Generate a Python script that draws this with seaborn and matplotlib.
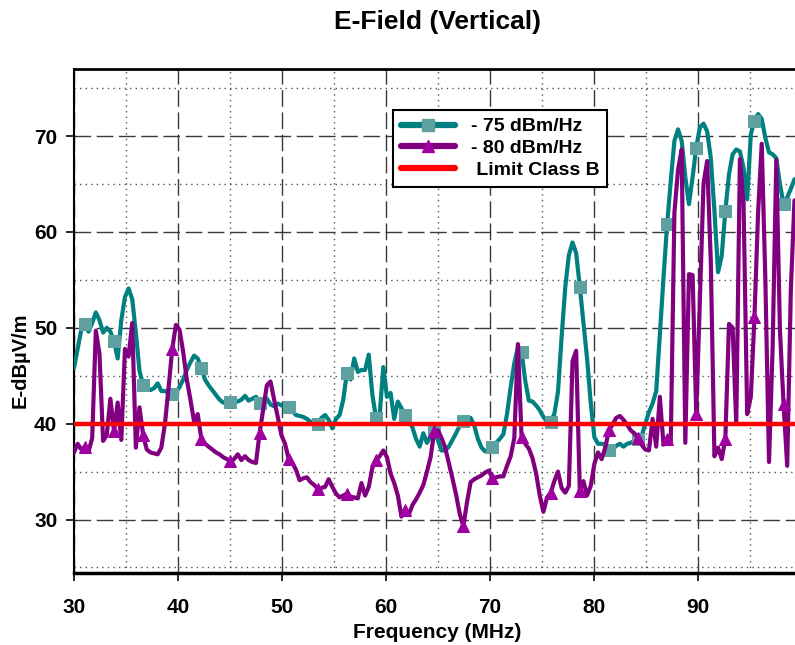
import numpy as np
import matplotlib
matplotlib.use("Agg")
import matplotlib.pyplot as plt
import seaborn as sns
from matplotlib.lines import Line2D
from matplotlib.ticker import MultipleLocator

# ---------------- data ----------------
freq_start = 30.0   # MHz, first sample
freq_step = 0.35    # MHz between samples

teal_vals = [
    45.8, 47.8, 49.8, 50.4, 49.6, 50.5, 51.6, 50.8, 49.5, 50.0,
    49.6, 48.6, 46.8, 50.8, 53.2, 54.1, 53.0, 49.5, 45.5, 44.0,
    43.8, 43.5, 43.7, 44.2, 43.4, 43.4, 43.2, 43.1, 43.3, 43.8,
    44.6, 45.6, 46.4, 47.1, 46.8, 45.8, 44.6, 44.0, 43.5, 43.0,
    42.5, 42.2, 42.1, 42.3, 42.4, 42.3, 42.5, 42.9, 42.4, 42.6,
    42.8, 42.2, 42.3, 42.6, 42.0, 41.8, 42.1, 41.9, 41.8, 41.7,
    41.3, 40.9, 40.8, 40.7, 40.5, 40.2, 40.0, 40.0, 40.6, 40.9,
    40.4, 39.5, 40.5, 40.9, 42.5, 45.3, 44.6, 46.8, 45.4, 45.6,
    45.6, 47.2, 43.0, 40.6, 40.9, 45.9, 42.8, 43.2, 40.5, 42.3,
    41.6, 40.9, 40.4, 39.6, 38.4, 37.6, 39.0, 38.0, 38.7, 39.3,
    38.3, 37.2, 37.2, 37.6, 38.3, 39.0, 39.8, 40.3, 40.4, 40.6,
    39.8, 38.4, 37.5, 37.1, 37.3, 37.6, 38.0, 38.4, 38.9, 41.0,
    43.8, 46.3, 48.0, 47.5, 44.5, 42.4, 42.3, 41.9, 41.4, 40.7,
    40.2, 40.2, 41.0, 43.3, 49.0, 54.2, 57.6, 58.9, 57.8, 54.3,
    50.5, 46.8, 42.2, 38.6, 37.9, 37.9, 37.8, 37.3, 37.3, 37.7,
    37.9, 37.6, 37.9, 38.0, 38.2, 38.4, 38.7, 40.0, 41.2, 42.1,
    43.4, 49.3, 55.2, 60.8, 65.3, 69.5, 70.7, 69.5, 65.7, 62.9,
    65.7, 68.8, 70.9, 71.3, 70.5, 67.7, 62.2, 55.8, 57.5, 62.2,
    66.0, 68.1, 68.6, 68.4, 66.7, 63.4, 70.2, 71.6, 72.3, 71.8,
    69.8, 68.3, 68.1, 67.7, 65.0, 62.9, 63.6, 64.5, 65.5,
]

purple_vals = [
    37.0, 37.9, 37.3, 37.6, 37.1, 38.5, 49.7, 47.3, 38.2, 38.8,
    42.6, 39.2, 42.2, 38.3, 47.8, 47.0, 50.5, 37.5, 41.7, 38.8,
    37.3, 37.0, 36.9, 36.8, 37.5, 40.0, 43.8, 47.8, 50.3, 49.8,
    47.5, 44.6, 42.5, 40.2, 41.0, 38.4, 37.9, 37.6, 37.3, 37.0,
    36.8, 36.5, 36.3, 36.1, 36.3, 36.8, 36.2, 36.6, 36.2, 36.0,
    35.9, 39.0, 41.5, 44.0, 44.4, 42.5, 40.7, 38.8, 37.9, 36.3,
    35.9, 35.2, 34.1, 34.3, 34.4, 33.9, 33.6, 33.2, 33.3, 33.4,
    34.2, 33.4, 32.7, 32.3, 32.5, 32.7, 32.4, 32.3, 32.2, 33.8,
    32.5, 33.4, 35.4, 36.2, 36.6, 37.2, 36.5, 34.8, 33.8, 32.5,
    30.3, 31.0, 30.5, 31.5, 32.1, 32.8, 33.6, 35.0, 36.5, 39.2,
    39.3, 38.5, 37.5, 35.9, 34.3, 32.6, 30.6, 29.3, 31.8, 33.9,
    34.2, 34.4, 34.6, 34.9, 35.1, 34.3, 34.4, 34.5, 34.5, 35.6,
    36.6, 38.5, 48.3, 38.6, 37.9, 37.4, 36.4, 34.8, 32.5, 30.8,
    32.3, 32.8, 34.0, 35.0, 33.3, 32.8, 33.5, 46.5, 47.6, 33.0,
    34.0, 32.5, 33.5, 35.8, 37.0, 36.3, 37.5, 39.3, 39.9, 40.6,
    40.8, 40.4, 39.9, 39.3, 39.0, 38.5, 37.8, 37.3, 37.2, 40.5,
    37.6, 42.8, 37.8, 38.4, 38.0, 62.0, 66.5, 68.6, 38.0, 55.6,
    55.5, 41.0, 52.8, 65.0, 67.4, 57.0, 36.6, 37.5, 36.3, 38.4,
    50.4, 50.0, 40.0, 67.6, 63.0, 41.0, 42.8, 51.1, 62.0, 69.2,
    55.0, 36.0, 48.0, 67.5, 49.8, 42.0, 35.6, 54.0, 63.3,
]

limit_value = 40.0
series_labels = ["- 75 dBm/Hz", "- 80 dBm/Hz", " Limit Class B"]
x_ticks = [30, 40, 50, 60, 70, 80, 90]
y_ticks = [30, 40, 50, 60, 70]

freq = freq_start + freq_step * np.arange(len(teal_vals))

# ---------------- style ----------------
sns.set_style("white")
plt.rcParams["font.family"] = ["Liberation Sans", "DejaVu Sans"]
plt.rcParams["font.weight"] = "bold"
plt.rcParams["text.color"] = "black"
plt.rcParams["axes.labelcolor"] = "black"
plt.rcParams["xtick.color"] = "black"
plt.rcParams["ytick.color"] = "black"

TEAL = "#008080"
TEAL_MK = "#5fa0a0"
PURPLE = "#800080"
PURPLE_MK = "#a000a0"
RED = "#ff0000"

fig = plt.figure(figsize=(7.95, 6.45), dpi=100)
ax = fig.add_axes([74 / 795, 1 - 572.7 / 645, 1 - 74 / 795, (572.7 - 69) / 645])

sns.lineplot(x=freq, y=teal_vals, ax=ax, color=TEAL, linewidth=3.0,
             marker="s", markevery=(3, 8), markersize=8.5,
             markerfacecolor=TEAL_MK, markeredgecolor=TEAL_MK,
             solid_joinstyle="round", zorder=3)
sns.lineplot(x=freq, y=purple_vals, ax=ax, color=PURPLE, linewidth=3.0,
             marker="^", markevery=(3, 8), markersize=9,
             markerfacecolor=PURPLE_MK, markeredgecolor=PURPLE_MK,
             solid_joinstyle="round", zorder=4)
ax.axhline(limit_value, color=RED, linewidth=3.2, zorder=5)

ax.set_xlim(30, 99.35)
ax.set_ylim(24.45, 77.0)
ax.set_xticks(x_ticks)
ax.set_yticks(y_ticks)
ax.xaxis.set_minor_locator(MultipleLocator(5))
ax.yaxis.set_minor_locator(MultipleLocator(5))

ax.grid(which="major", linestyle=(0, (12, 4)), color="#3a3a3a", linewidth=1.0, zorder=0)
ax.grid(which="minor", linestyle=(0, (1, 3)), color="#555555", linewidth=1.0, zorder=0)
ax.set_axisbelow(True)

ax.tick_params(which="major", direction="out", length=6, width=1.2, color="black",
               labelcolor="black", labelsize=15, bottom=True, left=True)
ax.tick_params(axis="x", which="major", pad=12)
ax.tick_params(axis="y", which="major", pad=6)
ax.tick_params(which="minor", length=0)

for side, lw in (("top", 2.0), ("bottom", 2.5), ("left", 1.5)):
    ax.spines[side].set_visible(True)
    ax.spines[side].set_color("black")
    ax.spines[side].set_linewidth(lw)
ax.spines["right"].set_visible(False)

ax.set_xlabel("")
ax.set_ylabel("")

fig.text(437 / 795, 1 - 22 / 645, "E-Field (Vertical)", ha="center", va="center",
         fontsize=19, fontweight="bold", color="black")
fig.text(437 / 795, 1 - 632 / 645, "Frequency (MHz)", ha="center", va="center",
         fontsize=15, fontweight="bold", color="black")
fig.text(20 / 795, 1 - 360 / 645, "E-dBµV/m", ha="center", va="center",
         rotation=90, fontsize=14.5, fontweight="bold", color="black")

handles = [
    Line2D([], [], color=TEAL, linewidth=4.5, marker="s", markersize=9,
           markerfacecolor=TEAL_MK, markeredgecolor=TEAL_MK),
    Line2D([], [], color=PURPLE, linewidth=4.5, marker="^", markersize=9,
           markerfacecolor=PURPLE_MK, markeredgecolor=PURPLE_MK),
    Line2D([], [], color=RED, linewidth=4.5),
]
leg = ax.legend(handles, series_labels, loc="upper left",
                bbox_to_anchor=((393 - 74) / 721, 1 - (110 - 69) / 503.7),
                borderaxespad=0, frameon=True, fancybox=False, framealpha=1,
                edgecolor="black", fontsize=14, handlelength=2.8,
                handletextpad=0.8, labelspacing=0.22, borderpad=0.4,
                numpoints=1)
leg.get_frame().set_linewidth(1.5)
for t in leg.get_texts():
    t.set_color("black")
leg.set_zorder(10)

fig.savefig("out.png", dpi=100)
